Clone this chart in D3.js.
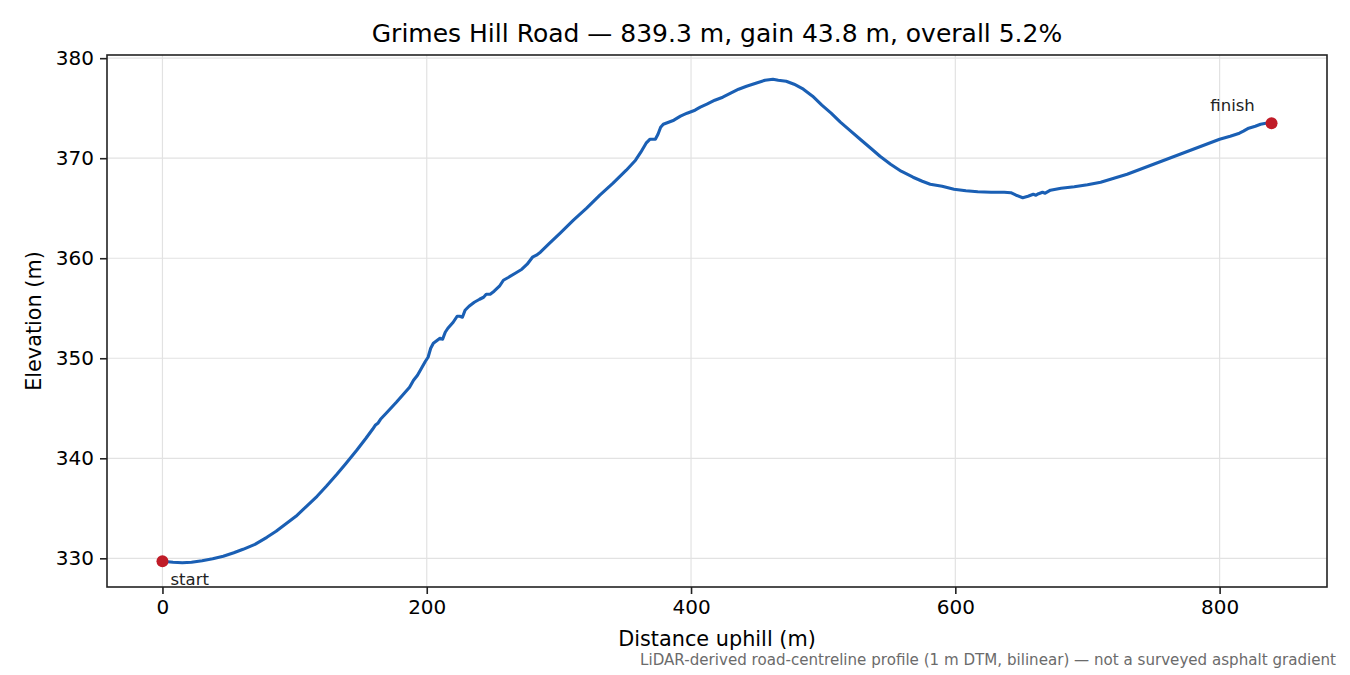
<!DOCTYPE html>
<html>
<head>
<meta charset="utf-8">
<script src="https://cdn.jsdelivr.net/npm/d3@7"></script>
<style>
  html, body { margin: 0; padding: 0; background: #fff; }
  svg { display: block; font-family: "DejaVu Sans", sans-serif; }
</style>
</head>
<body>
<div class="chart"></div>
<script>
// profile, distance (m) / elevation (m)
const distance = [
  0, 8, 15, 22, 30, 38, 46, 54, 61, 70, 79, 86, 94, 101, 109, 117, 124, 132, 139, 147,
  154, 159, 161, 163, 165, 170, 177, 183, 187, 190, 193, 196, 199, 201, 203, 205, 208, 210, 212, 214,
  216, 220, 223, 225, 227, 229, 232, 236, 240, 243, 245, 248, 251, 255, 258, 262, 267, 272, 276, 280,
  283, 286, 293, 301, 311, 321, 331, 341, 351, 358, 362, 366, 369, 373, 375, 377, 379, 383, 387, 392,
  397, 403, 407, 412, 418, 424, 430, 436, 442, 449, 456, 462, 466, 472, 478, 485, 492, 499, 506, 513,
  520, 528, 536, 543, 551, 559, 568, 575, 581, 590, 599, 608, 617, 627, 637, 642, 646, 651, 655, 659,
  661, 663, 666, 668, 672, 680, 690, 700, 710, 720, 730, 740, 750, 760, 770, 780, 790, 800, 808, 815,
  818, 822, 827, 831, 835, 839.3
];
const elevation = [
  329.7, 329.6, 329.55, 329.6, 329.75, 329.95, 330.2, 330.55, 330.9, 331.4, 332.1, 332.7, 333.5, 334.2, 335.2, 336.2, 337.2, 338.4, 339.5, 340.8,
  342.0, 342.9, 343.3, 343.5, 343.9, 344.6, 345.6, 346.5, 347.1, 347.8, 348.3, 349.0, 349.7, 350.1, 351.0, 351.5, 351.8, 352.0, 351.9, 352.6,
  353.0, 353.6, 354.2, 354.2, 354.1, 354.8, 355.2, 355.6, 355.9, 356.1, 356.4, 356.4, 356.7, 357.2, 357.8, 358.1, 358.5, 358.9, 359.4, 360.1,
  360.3, 360.6, 361.5, 362.5, 363.8, 365.0, 366.3, 367.5, 368.8, 369.8, 370.6, 371.5, 371.9, 371.9, 372.4, 373.1, 373.4, 373.6, 373.8, 374.2,
  374.5, 374.8, 375.1, 375.4, 375.8, 376.1, 376.5, 376.9, 377.2, 377.5, 377.8, 377.9, 377.8, 377.7, 377.4, 376.9, 376.2, 375.3, 374.5, 373.6,
  372.8, 371.9, 371.0, 370.2, 369.4, 368.7, 368.1, 367.7, 367.4, 367.2, 366.9, 366.75, 366.65, 366.6, 366.6, 366.55, 366.3, 366.05, 366.2, 366.4,
  366.3, 366.45, 366.6, 366.5, 366.8, 367.0, 367.15, 367.35, 367.6, 368.0, 368.4, 368.9, 369.4, 369.9, 370.4, 370.9, 371.4, 371.9, 372.2, 372.5,
  372.7, 373.0, 373.2, 373.4, 373.5, 373.5
];
const xTicks = [0, 200, 400, 600, 800];
const yTicks = [330, 340, 350, 360, 370, 380];
const endLabels = ["start", "finish"];

const titleText = "Grimes Hill Road \u2014 839.3 m, gain 43.8 m, overall 5.2%";
const noteText = "LiDAR-derived road-centreline profile (1 m DTM, bilinear) \u2014 not a surveyed asphalt gradient";

var w = 1350,
  h = 675,
  m = { left: 107, right: 23, top: 55, bottom: 88 },
  lineColor = "#1a5fb4",
  dotColor = "#c01c28",
  ink = "#222";

const data = distance.map((d, i) => [d, elevation[i]]);

// matplotlib style 5% margins
const xMax = d3.max(distance), xPad = xMax * 0.05;
const yMin = d3.min(elevation), yMax = d3.max(elevation), yPad = (yMax - yMin) * 0.05;

const xScale = d3.scaleLinear().domain([-xPad, xMax + xPad]).range([m.left, w - m.right]);
const yScale = d3.scaleLinear().domain([yMin - yPad, yMax + yPad]).range([h - m.bottom, m.top]);

const svg = d3.select(".chart").append("svg").attr("width", w).attr("height", h);

// grid
svg.append("g")
  .selectAll("line.vx")
  .data(xTicks)
  .enter()
  .append("line")
  .attr("x1", (d) => xScale(d))
  .attr("x2", (d) => xScale(d))
  .attr("y1", m.top)
  .attr("y2", h - m.bottom)
  .attr("stroke", "#e2e2e2")
  .attr("stroke-width", 1.2);
svg.append("g")
  .selectAll("line.hy")
  .data(yTicks)
  .enter()
  .append("line")
  .attr("x1", m.left)
  .attr("x2", w - m.right)
  .attr("y1", (d) => yScale(d))
  .attr("y2", (d) => yScale(d))
  .attr("stroke", "#e2e2e2")
  .attr("stroke-width", 1.2);

// axes
const xAxis = d3.axisBottom(xScale).tickValues(xTicks).tickSize(7).tickPadding(6).tickFormat(d3.format("d"));
const yAxis = d3.axisLeft(yScale).tickValues(yTicks).tickSize(7).tickPadding(6).tickFormat(d3.format("d"));

const gx = svg.append("g")
  .attr("id", "x-axis")
  .attr("transform", "translate(0," + (h - m.bottom) + ")")
  .call(xAxis);
const gy = svg.append("g")
  .attr("id", "y-axis")
  .attr("transform", "translate(" + m.left + ",0)")
  .call(yAxis);

[gx, gy].forEach((g) => {
  g.select(".domain").remove();
  g.selectAll(".tick line").attr("stroke", ink).attr("stroke-width", 1.6);
  g.selectAll(".tick text")
    .attr("fill", "#000")
    .style("font-size", "20px")
    .style("font-family", "'DejaVu Sans', sans-serif");
});

// frame
svg.append("rect")
  .attr("x", m.left)
  .attr("y", m.top)
  .attr("width", w - m.left - m.right)
  .attr("height", h - m.top - m.bottom)
  .attr("fill", "none")
  .attr("stroke", ink)
  .attr("stroke-width", 1.6);

// profile line
const line = d3.line()
  .x((d) => xScale(d[0]))
  .y((d) => yScale(d[1]));

svg.append("path")
  .datum(data)
  .attr("d", line)
  .attr("fill", "none")
  .attr("stroke", lineColor)
  .attr("stroke-width", 3.1)
  .attr("stroke-linejoin", "round")
  .attr("stroke-linecap", "round");

// start / finish markers
const ends = [data[0], data[data.length - 1]];
svg.selectAll("circle.end")
  .data(ends)
  .enter()
  .append("circle")
  .attr("class", "end")
  .attr("cx", (d) => xScale(d[0]))
  .attr("cy", (d) => yScale(d[1]))
  .attr("r", 6)
  .attr("fill", dotColor);

svg.append("text")
  .attr("x", xScale(ends[0][0]) + 8)
  .attr("y", yScale(ends[0][1]) + 24)
  .attr("fill", "#222")
  .style("font-size", "16.5px")
  .text(endLabels[0]);

svg.append("text")
  .attr("x", xScale(ends[1][0]) - 39)
  .attr("y", yScale(ends[1][1]) - 12)
  .attr("text-anchor", "middle")
  .attr("fill", "#222")
  .style("font-size", "16.5px")
  .text(endLabels[1]);

// title and labels
svg.append("text")
  .attr("x", (m.left + w - m.right) / 2)
  .attr("y", 42)
  .attr("text-anchor", "middle")
  .attr("fill", "#000")
  .style("font-size", "25px")
  .text(titleText);

svg.append("text")
  .attr("x", (m.left + w - m.right) / 2)
  .attr("y", 646)
  .attr("text-anchor", "middle")
  .attr("fill", "#000")
  .style("font-size", "20.8px")
  .text("Distance uphill (m)");

svg.append("text")
  .attr("transform", "translate(41," + (m.top + h - m.bottom) / 2 + ") rotate(-90)")
  .attr("text-anchor", "middle")
  .attr("fill", "#000")
  .style("font-size", "20.8px")
  .text("Elevation (m)");

svg.append("text")
  .attr("x", 1336)
  .attr("y", 665)
  .attr("text-anchor", "end")
  .attr("fill", "#6b6b6b")
  .style("font-size", "15.1px")
  .text(noteText);
</script>
</body>
</html>
